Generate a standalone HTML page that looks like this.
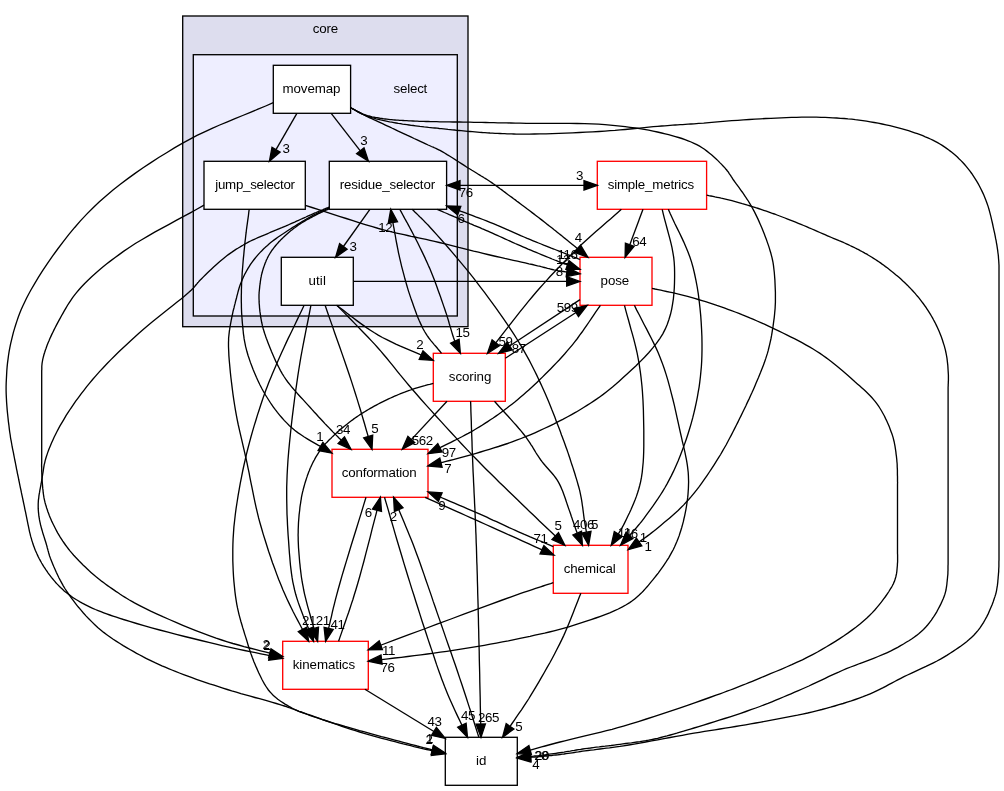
<!DOCTYPE html>
<html><head><meta charset="utf-8"><title>core/select</title>
<style>html,body{margin:0;padding:0;background:#fff}body{width:1004px;height:791px;overflow:hidden;font-family:"Liberation Sans",sans-serif}svg{display:block;will-change:transform}</style>
</head><body>
<svg width="1004" height="791" viewBox="0 0 1004 791">
<rect width="1004" height="791" fill="#fff"/>
<rect x="182.7" y="16" width="285.3" height="310.7" fill="#ddddee" stroke="#000" stroke-width="1.33"/>
<rect x="193.3" y="54.7" width="264" height="261.3" fill="#eeeeff" stroke="#000" stroke-width="1.33"/>
<g font-family="'Liberation Sans',sans-serif" font-size="13.33" fill="#000">
<text x="312.7" y="32.9" letter-spacing="-0.167">core</text>
<text x="393.6" y="92.9" letter-spacing="-0.22">select</text>
<rect x="273.3" y="65.3" width="77.3" height="48" fill="#fff" stroke="#000" stroke-width="1.33"/>
<text x="282.5" y="92.9" letter-spacing="-0.1">movemap</text>
<rect x="204" y="161.3" width="101.3" height="48" fill="#fff" stroke="#000" stroke-width="1.33"/>
<text x="215.2" y="188.9" letter-spacing="-0.258">jump_selector</text>
<rect x="329.3" y="161.3" width="117.3" height="48" fill="#fff" stroke="#000" stroke-width="1.33"/>
<text x="339.7" y="188.9" letter-spacing="-0.16">residue_selector</text>
<rect x="281.3" y="257.3" width="72" height="48" fill="#fff" stroke="#000" stroke-width="1.33"/>
<text x="308.5" y="284.9" letter-spacing="0.1">util</text>
<rect x="597.3" y="161.3" width="109.3" height="48" fill="#fff" stroke="#f00" stroke-width="1.33"/>
<text x="607.7" y="188.9" letter-spacing="-0.192">simple_metrics</text>
<rect x="580" y="257.3" width="72" height="48" fill="#fff" stroke="#f00" stroke-width="1.33"/>
<text x="600.6" y="284.9" letter-spacing="-0.1">pose</text>
<rect x="433.3" y="353.3" width="72" height="48" fill="#fff" stroke="#f00" stroke-width="1.33"/>
<text x="448.8" y="380.9" letter-spacing="-0.067">scoring</text>
<rect x="332" y="449.3" width="96" height="48" fill="#fff" stroke="#f00" stroke-width="1.33"/>
<text x="341.8" y="476.9" letter-spacing="-0.209">conformation</text>
<rect x="553.3" y="545.3" width="74.7" height="48" fill="#fff" stroke="#f00" stroke-width="1.33"/>
<text x="563.7" y="572.9" letter-spacing="-0.071">chemical</text>
<rect x="282.7" y="641.3" width="85.6" height="48" fill="#fff" stroke="#f00" stroke-width="1.33"/>
<text x="292.7" y="668.9" letter-spacing="-0.056">kinematics</text>
<rect x="445.3" y="737.3" width="72" height="48" fill="#fff" stroke="#000" stroke-width="1.33"/>
<text x="476" y="764.9" letter-spacing="0.1">id</text>
</g>
<g fill="none" stroke="#000" stroke-width="1.33">
<path d="M296.9,113.3 276,149.7"/>
<path d="M331.2,113.3 360.3,150.8"/>
<path d="M350.7,107.8 352,108.5 353.2,109.1 354.4,109.8 355.6,110.5 356.8,111.1 358,111.8 359.3,112.4 360.5,113.1 361.8,113.8 363.1,114.5 364.5,115.2 365.9,115.9 367.8,116.8 369.8,117.8 371.8,118.7 373.8,119.7 376,120.7 378.1,121.7 380.3,122.7 382.6,123.7 384.9,124.8 387.1,125.8 389.5,126.9 391.8,128 394.7,129.3 397.7,130.8 400.9,132.3 404.2,133.8 407.5,135.4 410.8,136.9 414.1,138.5 417.2,139.9 420.3,141.4 423.1,142.7 425.7,143.9 428.1,145 429.3,145.5 430.4,146 431.4,146.5 432.4,146.9 433.3,147.2 434.1,147.6 435,148 435.9,148.4 436.8,148.8 437.8,149.3 438.8,149.8 440,150.4 442.2,151.6 444.6,153 447.1,154.6 449.9,156.2 452.7,158 455.6,159.9 458.5,161.7 461.4,163.6 464.2,165.4 466.9,167.2 469.5,168.8 471.9,170.3 473.6,171.3 475.2,172.3 476.8,173.3 478.3,174.2 479.8,175.1 481.2,176 482.7,176.8 484.1,177.7 485.6,178.6 487,179.5 488.5,180.5 490,181.5 491.7,182.6 493.3,183.8 495,185 496.7,186.2 498.4,187.4 500.1,188.7 501.8,189.9 503.5,191.2 505.1,192.4 506.8,193.7 508.5,195 510.2,196.2 511.9,197.4 513.6,198.7 515.3,199.9 516.9,201.2 518.6,202.4 520.3,203.7 522,205 523.7,206.2 525.4,207.5 527,208.8 528.7,210 530.4,211.3 532.1,212.6 533.8,213.9 535.5,215.2 537.2,216.5 538.9,217.8 540.6,219.1 542.3,220.4 544,221.7 545.6,223 547.3,224.4 549,225.7 550.7,227 552.4,228.3 554.1,229.7 555.8,231 557.5,232.4 559.2,233.8 560.9,235.1 562.6,236.5 564.3,237.9 566,239.2 567.6,240.6 569.3,241.9 570.9,243.2 572.4,244.4 573.8,245.6 575.3,246.8 576.7,248 577.7,248.8"/>
<path d="M350.7,107.8 352,108.4 353.2,109.1 354.4,109.7 355.7,110.4 356.9,111 358.1,111.7 359.4,112.3 360.6,112.9 361.9,113.5 363.2,114.1 364.5,114.6 365.9,115.1 367.4,115.6 369,116 370.5,116.4 372.1,116.8 373.8,117.1 375.4,117.5 377,117.7 378.7,118 380.4,118.3 382,118.5 383.7,118.8 385.3,119 386.9,119.2 388.5,119.4 390.1,119.6 391.7,119.7 393.3,119.9 394.9,120 396.5,120.1 398.1,120.2 399.7,120.3 401.4,120.4 403.1,120.5 404.8,120.6 406.8,120.7 408.8,120.8 410.9,120.9 413,121 415.1,121.1 417.2,121.2 419.3,121.3 421.5,121.3 423.8,121.4 426,121.5 428.3,121.5 430.7,121.6 433.7,121.7 436.7,121.7 439.8,121.8 443,121.8 446.3,121.9 449.5,121.9 452.9,122 456.2,122 459.7,122 463.1,122.1 466.5,122.1 470,122.2 473.9,122.3 477.8,122.3 481.8,122.4 485.7,122.5 489.7,122.6 493.8,122.7 497.9,122.8 502.1,122.8 506.4,122.9 510.8,123 515.4,123.1 520,123.2 526.4,123.3 533.1,123.3 540.1,123.3 547.3,123.3 554.7,123.3 562.2,123.3 569.7,123.4 577.1,123.5 584.5,123.7 591.6,123.9 598.5,124.2 605,124.7 610.2,125.1 615.3,125.6 620.3,126.1 625.2,126.7 630.1,127.3 634.9,127.9 639.6,128.6 644.2,129.4 648.7,130.2 653.1,131.1 657.4,132 661.7,133 665.2,133.9 668.6,134.7 672,135.6 675.4,136.6 678.6,137.5 681.9,138.5 685,139.6 688.1,140.8 691.1,142 694,143.3 696.8,144.7 699.6,146.2 702.1,147.7 704.5,149.3 706.9,151.1 709.2,152.9 711.5,154.8 713.7,156.7 715.9,158.7 717.9,160.6 719.8,162.6 721.6,164.4 723.3,166.2 724.9,167.9 725.8,169 726.7,170 727.4,171 728.2,171.9 728.8,172.8 729.4,173.8 730,174.7 730.7,175.7 731.3,176.7 732,177.7 732.7,178.8 733.5,180 734.8,181.8 736.1,183.7 737.6,185.7 739.1,187.7 740.6,189.8 742.2,192 743.7,194.2 745.3,196.5 746.8,198.8 748.3,201 749.7,203.3 751,205.5 752.2,207.7 753.4,209.9 754.6,212.1 755.7,214.4 756.8,216.6 757.9,218.9 758.9,221.1 759.9,223.4 760.9,225.7 761.9,228 762.8,230.3 763.7,232.6 764.6,234.8 765.4,237.1 766.3,239.3 767.1,241.6 767.9,243.9 768.7,246.1 769.4,248.4 770.1,250.7 770.8,253 771.4,255.3 772,257.6 772.5,260 773,262.4 773.4,264.9 773.7,267.4 774,270 774.3,272.5 774.5,275 774.7,277.6 774.9,280.1 775,282.6 775.1,285.1 775.2,287.6 775.3,290 775.4,292.1 775.4,294.2 775.4,296.3 775.4,298.3 775.4,300.4 775.4,302.4 775.3,304.4 775.2,306.4 775.1,308.5 774.9,310.6 774.7,312.8 774.5,315 774.2,317.8 773.8,320.7 773.4,323.6 773,326.7 772.5,329.7 772,332.8 771.5,335.9 770.9,339 770.2,342.1 769.5,345.1 768.8,348 768.1,350.9 767.4,353.4 766.6,355.9 765.8,358.4 765,360.7 764.2,363.1 763.3,365.5 762.4,367.8 761.4,370.2 760.5,372.6 759.5,375 758.5,377.5 757.4,380 756.1,383.1 754.8,386.2 753.4,389.4 752,392.6 750.5,395.8 749,399.1 747.4,402.4 745.9,405.7 744.3,409 742.7,412.3 741.1,415.6 739.5,418.8 737.9,422.1 736.3,425.3 734.6,428.6 733,431.8 731.3,435.1 729.6,438.3 727.9,441.5 726.2,444.8 724.3,448 722.5,451.2 720.6,454.5 718.6,457.7 716.4,461.2 714.1,464.8 711.8,468.4 709.4,472 707,475.6 704.5,479.2 701.9,482.8 699.4,486.3 696.7,489.8 694.1,493.1 691.4,496.4 688.7,499.5 686.1,502.3 683.5,505.1 680.8,507.8 678.1,510.4 675.3,512.9 672.5,515.4 669.7,517.9 666.9,520.3 664.1,522.6 661.3,524.9 658.6,527.2 655.9,529.4 653.6,531.3 651.2,533.1 648.9,534.9 646.6,536.6 644.3,538.3 642,539.9 639.7,541.5 639.1,542"/>
<path d="M350.7,107.8 352,108.5 353.2,109.1 354.4,109.8 355.6,110.5 356.8,111.2 358,111.9 359.2,112.6 360.5,113.2 361.8,113.9 363.1,114.5 364.5,115.1 365.9,115.7 367.8,116.4 369.8,117 371.8,117.6 374,118.2 376.1,118.8 378.4,119.3 380.6,119.9 382.9,120.4 385.1,120.8 387.4,121.3 389.6,121.8 391.8,122.2 393.9,122.6 396.1,123 398.3,123.4 400.4,123.7 402.6,124.1 404.7,124.4 406.9,124.7 409.1,125 411.2,125.3 413.4,125.5 415.5,125.8 417.7,126.1 419.9,126.4 422,126.6 424.2,126.9 426.3,127.1 428.5,127.4 430.6,127.6 432.8,127.8 434.9,128 437.1,128.2 439.3,128.5 441.4,128.7 443.6,128.9 445.8,129.1 448,129.4 450.1,129.6 452.3,129.8 454.5,130 456.7,130.3 458.9,130.5 461.1,130.7 463.3,130.9 465.5,131.1 467.7,131.3 470,131.5 472.4,131.7 474.9,131.9 477.4,132.1 479.9,132.3 482.4,132.5 484.9,132.6 487.4,132.8 490,133 492.5,133.1 495,133.3 497.5,133.4 500,133.5 502.4,133.6 504.7,133.7 507,133.8 509.3,133.9 511.5,133.9 513.8,134 516.1,134.1 518.5,134.1 521,134.1 523.6,134.1 526.4,134.1 529.3,134.1 534.4,134 540,133.9 546,133.8 552.3,133.6 558.9,133.4 565.6,133.1 572.5,132.8 579.3,132.5 586,132.2 592.6,131.8 599,131.5 605,131.1 610.1,130.7 615.1,130.4 620.1,129.9 625.1,129.5 630,129 634.9,128.5 639.6,128.1 644.3,127.6 648.8,127.2 653.3,126.7 657.6,126.3 661.7,126 664.7,125.8 667.5,125.6 670.1,125.4 672.7,125.2 675.2,125 677.7,124.9 680.2,124.7 682.7,124.6 685.3,124.4 688.1,124.2 690.9,124 694,123.8 698.7,123.4 703.7,123.1 709,122.6 714.5,122.2 720.2,121.7 726,121.2 731.8,120.7 737.7,120.3 743.5,119.9 749.3,119.5 755,119.1 760.5,118.8 765.7,118.5 770.9,118.3 776,118.1 781.2,117.8 786.4,117.6 791.5,117.4 796.6,117.3 801.7,117.2 806.6,117.1 811.5,117.1 816.4,117.2 821.1,117.3 825.1,117.4 829.1,117.6 832.9,117.8 836.7,118 840.5,118.3 844.2,118.5 848,118.9 851.7,119.2 855.3,119.7 859,120.1 862.8,120.6 866.5,121.2 870.3,121.8 874.2,122.5 878.1,123.2 882.1,124 886,124.8 889.9,125.7 893.7,126.6 897.5,127.6 901.3,128.6 904.9,129.6 908.5,130.7 911.9,131.8 914.7,132.8 917.4,133.7 920.1,134.7 922.8,135.7 925.3,136.8 927.9,137.8 930.4,139 932.8,140.1 935.2,141.3 937.6,142.6 939.9,144 942.2,145.4 944.4,146.9 946.6,148.4 948.8,150 950.9,151.6 953,153.3 955.1,155 957.1,156.8 959,158.7 961,160.6 962.8,162.5 964.6,164.5 966.4,166.6 968.2,168.8 970,171.1 971.7,173.5 973.3,175.9 974.9,178.3 976.5,180.9 978,183.4 979.4,186 980.8,188.7 982.1,191.4 983.4,194.1 984.6,196.9 985.8,200 987,203.2 988.1,206.4 989.1,209.8 990,213.2 990.9,216.7 991.7,220.1 992.5,223.5 993.2,226.9 993.9,230.1 994.6,233.2 995.2,236.2 995.6,238.4 996.1,240.5 996.4,242.6 996.8,244.7 997.1,246.7 997.4,248.7 997.7,250.6 997.9,252.5 998.2,254.5 998.4,256.4 998.5,258.3 998.7,260.2 998.8,261.9 998.9,263.7 999,265.4 999,267.1 999,268.8 999,270.5 999,272.2 999,273.8 999,275.5 999,277.2 999,278.8 999,280.5 999,282.1 999,283.7 999,285.3 999,286.9 999,288.4 999,290 999,291.6 999,293.2 999,294.8 999,296.5 999,298.2 999,300 999,302.2 999,304.4 999,306.6 999,308.9 999,311.2 999,313.5 999,315.9 999,318.5 999,321.1 999,323.9 999,326.9 999,330 999,336.3 999,343.3 999,350.8 999,358.9 999,367.4 999,376.2 999,385.2 999,394.3 999,403.5 999,412.5 999,421.4 999,430 999,438.9 999,448.3 999,458 999,467.9 999,477.7 999,487.5 999,497 999,506 999,514.5 999,522.2 999,529.1 999,535 999,537.2 999,539.2 999,541.1 999,542.8 999,544.4 999,546 999,547.5 999,548.9 999,550.4 999,551.8 999,553.4 999,555 999,556.7 999,558.3 999,560 998.9,561.6 998.9,563.3 998.9,565 998.9,566.6 998.8,568.3 998.7,570 998.7,571.6 998.5,573.3 998.4,575 998.2,576.8 998.1,578.5 997.9,580.2 997.8,582 997.6,583.7 997.4,585.4 997.1,587.2 996.8,589 996.5,590.8 996.1,592.6 995.6,594.5 995,596.4 994.1,599 993.2,601.8 992.1,604.7 990.9,607.6 989.6,610.6 988.3,613.6 986.8,616.6 985.2,619.5 983.6,622.4 981.8,625.2 980,627.9 978.1,630.4 976,632.8 973.8,635.2 971.5,637.4 969.1,639.6 966.6,641.7 964,643.7 961.3,645.7 958.6,647.6 955.8,649.5 953,651.4 950.1,653.2 947.2,655.1 943.9,657.1 940.5,659.1 937,661 933.4,662.8 929.7,664.6 926,666.4 922.2,668.1 918.5,669.8 914.8,671.6 911.1,673.3 907.5,675 904,676.7 900.8,678.3 897.7,679.9 894.7,681.5 891.7,683.1 888.7,684.7 885.7,686.3 882.7,687.9 879.7,689.4 876.6,690.9 873.4,692.4 870.2,693.8 866.9,695.2 863.1,696.7 859.2,698.1 855.3,699.5 851.3,700.9 847.2,702.2 843.1,703.5 838.9,704.7 834.7,706 830.5,707.2 826.2,708.3 821.9,709.5 817.5,710.6 812.6,711.8 807.7,713 802.6,714.1 797.5,715.2 792.3,716.2 787.1,717.2 781.9,718.2 776.7,719.2 771.4,720.2 766.2,721.1 761,722.1 755.8,723 750.7,723.9 745.6,724.8 740.5,725.7 735.4,726.5 730.3,727.3 725.2,728.1 720,729 714.9,729.8 709.7,730.6 704.5,731.4 699.3,732.3 694,733.2 688.2,734.2 682.3,735.3 676.2,736.4 670.1,737.5 663.9,738.7 657.7,739.8 651.6,740.9 645.6,742 639.8,743.1 634.1,744.1 628.7,745 623.5,745.8 619.9,746.4 616.3,746.9 612.9,747.3 609.5,747.8 606.2,748.2 603,748.6 599.9,749 596.8,749.4 593.8,749.8 590.8,750.1 587.9,750.5 585,750.9 582.7,751.2 580.5,751.5 578.4,751.9 576.3,752.2 574.2,752.5 572.2,752.8 570.1,753.1 568.1,753.4 566.1,753.7 564.1,754 562.1,754.2 560,754.5 557.9,754.8 555.8,755 553.7,755.2 551.5,755.5 549.4,755.7 547.2,755.9 545.1,756.1 543,756.3 541,756.5 538.9,756.7 536.9,756.8 535,757 533.4,757.1 531.9,757.2 530.6,757.3"/>
<path d="M273.3,102.7 265.7,106 258,109.2 250.4,112.4 242.7,115.5 235,118.6 227.4,121.8 219.7,125 212.1,128.3 204.6,131.8 197,135.4 189.6,139.3 182.2,143.4 174.4,147.9 166.6,152.7 158.7,157.5 150.9,162.6 143.1,167.8 135.4,173.1 127.8,178.6 120.3,184.2 113,190 106,195.9 99.1,202 92.6,208.2 86.5,214.4 80.4,220.9 74.5,227.7 68.7,234.7 63.1,241.9 57.7,249 52.5,256.2 47.5,263.4 42.8,270.4 38.5,277.2 34.5,283.8 30.9,290 28.6,294.2 26.5,298.2 24.6,302.2 22.8,306 21.1,309.8 19.6,313.6 18.2,317.3 16.9,321.1 15.7,324.8 14.5,328.6 13.4,332.4 12.4,336.3 11.5,340.1 10.6,343.9 9.8,347.8 9.1,351.6 8.5,355.5 8,359.3 7.5,363.2 7.1,367.1 6.8,371 6.6,374.9 6.4,378.7 6.2,382.6 6.1,386.5 6.1,390.4 6.2,394.3 6.4,398.3 6.6,402.3 6.9,406.2 7.2,410.1 7.6,414 8,417.8 8.4,421.6 8.9,425.3 9.3,428.9 9.7,432 10.2,435 10.6,438.1 11.2,441.1 11.7,444 12.2,447 12.8,449.8 13.4,452.6 13.9,455.3 14.4,458 14.9,460.5 15.4,462.9 15.7,464.5 16,466 16.3,467.5 16.5,468.8 16.8,470.2 17.1,471.5 17.3,472.8 17.6,474.1 17.9,475.5 18.2,476.9 18.5,478.4 18.8,480 19.3,482.3 19.8,484.8 20.3,487.3 20.9,490 21.4,492.7 22,495.4 22.6,498.2 23.2,501 23.8,503.8 24.4,506.6 24.9,509.3 25.5,511.9 26,514.4 26.5,516.8 27,519.3 27.5,521.8 28,524.3 28.5,526.7 29,529.2 29.5,531.6 30.1,533.9 30.6,536.2 31.3,538.4 31.9,540.6 32.5,542.4 33,544.1 33.6,545.7 34.2,547.3 34.8,548.9 35.4,550.5 36.1,552 36.8,553.6 37.5,555.1 38.2,556.6 39,558.2 39.8,559.7 40.7,561.3 41.6,563 42.6,564.6 43.6,566.3 44.7,567.9 45.8,569.6 46.9,571.2 48,572.8 49.1,574.3 50.3,575.9 51.4,577.4 52.6,578.8 53.7,580.1 54.8,581.4 55.9,582.7 57,583.9 58.2,585.1 59.3,586.3 60.5,587.5 61.7,588.6 63,589.8 64.2,590.9 65.5,592 66.9,593.1 68.4,594.3 70,595.4 71.5,596.6 73.2,597.7 74.8,598.7 76.5,599.8 78.2,600.8 80,601.9 81.8,602.9 83.7,603.9 85.6,604.9 87.6,605.9 90.1,607.1 92.7,608.3 95.4,609.5 98.1,610.6 100.9,611.7 103.8,612.8 106.7,613.9 109.8,615 113,616.1 116.4,617.2 119.9,618.3 123.5,619.5 129.7,621.4 136.6,623.5 143.9,625.6 151.7,627.8 159.7,630 168,632.1 176.3,634.3 184.7,636.5 193,638.5 201,640.5 208.8,642.4 216.1,644.2 222,645.6 227.8,646.9 233.5,648.2 239.1,649.4 244.6,650.5 250.1,651.6 255.5,652.7 260.9,653.8 266.3,654.9 269.6,655.6"/>
<path d="M305.3,205.4 312,207.5 318.7,209.7 325.6,211.9 332.4,214.1 339.3,216.3 346.2,218.5 352.9,220.7 359.6,222.8 366.1,224.8 372.4,226.7 378.5,228.5 384.4,230.1 388.6,231.2 392.6,232.2 396.5,233.1 400.3,233.9 404,234.7 407.6,235.5 411.2,236.3 414.8,237 418.5,237.8 422.2,238.6 426.1,239.4 430,240.3 434.6,241.4 439.3,242.5 444.1,243.7 449,244.9 453.9,246.1 458.8,247.4 463.8,248.6 468.7,249.8 473.6,251.1 478.4,252.2 483.1,253.4 487.8,254.5 492,255.5 496.3,256.5 500.5,257.4 504.8,258.4 509.1,259.3 513.3,260.3 517.4,261.2 521.4,262.1 525.2,262.9 528.9,263.8 532.4,264.5 535.6,265.3 537.6,265.8 539.4,266.2 541.2,266.7 542.8,267.1 544.4,267.5 546,267.9 547.5,268.4 549.1,268.7 550.6,269.1 552.2,269.5 553.9,269.9 555.6,270.2 557.5,270.6 559.5,270.9 561.5,271.2 563.5,271.5 565.6,271.8 566.8,272"/>
<path d="M204,205.1 197.2,209 190.3,212.8 183.2,216.6 176.2,220.4 169.1,224.3 162.1,228.1 155.1,231.9 148.3,235.8 141.7,239.7 135.3,243.5 129.3,247.5 123.5,251.4 119.1,254.6 114.8,257.7 110.6,260.9 106.5,264.1 102.5,267.3 98.7,270.6 95,273.8 91.4,277 88,280.3 84.7,283.5 81.6,286.8 78.7,290 76.5,292.6 74.5,295.1 72.6,297.7 70.8,300.3 69.1,302.9 67.4,305.5 65.9,308.1 64.4,310.7 62.9,313.3 61.5,315.8 60.1,318.4 58.7,320.9 57.5,323.1 56.3,325.4 55.1,327.7 54,329.9 52.9,332.2 51.8,334.4 50.8,336.6 49.8,338.8 48.9,341 48,343 47.2,345.1 46.5,347 46,348.4 45.5,349.7 45.1,351 44.7,352.3 44.3,353.5 43.9,354.8 43.6,356 43.3,357.2 43,358.4 42.7,359.6 42.5,360.8 42.3,362 42.1,363.1 42,364.2 41.9,365.3 41.8,366.3 41.8,367.4 41.8,368.5 41.8,369.6 41.7,370.6 41.7,371.7 41.7,372.8 41.7,373.9 41.7,375 41.7,376.2 41.7,377.4 41.7,378.6 41.7,379.7 41.7,380.9 41.7,382.1 41.7,383.3 41.7,384.6 41.7,385.9 41.7,387.2 41.7,388.6 41.7,390 41.7,392.1 41.7,394.4 41.7,396.7 41.7,399.2 41.7,401.7 41.7,404.2 41.7,406.8 41.7,409.4 41.7,412.1 41.7,414.7 41.7,417.4 41.7,420 41.7,422.9 41.7,425.8 41.7,428.9 41.7,432 41.7,435.1 41.7,438.2 41.7,441.3 41.7,444.3 41.7,447.2 41.7,450 41.7,452.6 41.7,455 41.7,456.5 41.7,457.9 41.7,459.2 41.7,460.5 41.7,461.7 41.7,462.9 41.6,464.1 41.6,465.2 41.6,466.4 41.7,467.6 41.7,468.8 41.7,470 41.7,471.2 41.8,472.5 41.8,473.7 41.9,475 41.9,476.2 42,477.5 42,478.7 42.1,480 42.2,481.2 42.3,482.5 42.4,483.7 42.5,485 42.6,486.3 42.7,487.6 42.8,488.9 43,490.1 43.1,491.4 43.2,492.7 43.4,494 43.6,495.3 43.8,496.6 44,497.9 44.3,499.3 44.6,500.7 45,502.4 45.5,504.2 46.1,506 46.6,507.9 47.3,509.8 47.9,511.7 48.6,513.6 49.3,515.5 50.1,517.4 50.9,519.3 51.7,521.1 52.6,523 53.6,525 54.6,527 55.6,529 56.7,531.1 57.8,533.1 59,535.1 60.2,537.1 61.5,539.1 62.8,541.1 64.1,543 65.5,545 66.9,546.9 68.5,549 70.2,551.1 71.9,553.1 73.7,555.2 75.6,557.3 77.5,559.3 79.4,561.3 81.4,563.3 83.3,565.2 85.3,567.1 87.3,569 89.2,570.8 91,572.4 92.8,574 94.6,575.6 96.4,577.1 98.2,578.5 100.1,580 101.9,581.4 103.8,582.8 105.7,584.2 107.6,585.6 109.6,587 111.6,588.4 113.8,589.9 115.9,591.4 118.1,592.8 120.2,594.3 122.4,595.7 124.7,597.1 127,598.5 129.4,600 131.9,601.4 134.5,602.9 137.3,604.4 140.2,605.9 145.2,608.4 150.7,611.1 156.6,613.8 162.8,616.7 169.3,619.5 176,622.4 182.8,625.3 189.6,628.1 196.5,630.8 203.2,633.4 209.8,635.8 216.1,638.1 221.7,640 227.4,641.8 232.9,643.5 238.5,645 244,646.6 249.6,648 255.1,649.4 260.6,650.8 266.1,652.2 269.8,653.2"/>
<path d="M249.2,209.3 248.8,212.2 248.5,215 248.1,217.9 247.7,220.7 247.3,223.6 246.9,226.4 246.5,229.3 246.2,232.2 245.8,235.1 245.5,238 245.1,241 244.8,244 244.5,247.4 244.1,250.9 243.8,254.5 243.4,258.1 243.1,261.8 242.8,265.5 242.5,269.1 242.2,272.8 242,276.4 241.8,280 241.6,283.5 241.5,286.9 241.4,289.9 241.4,292.8 241.3,295.7 241.3,298.6 241.3,301.4 241.4,304.3 241.4,307.1 241.5,309.8 241.6,312.6 241.8,315.4 242,318.1 242.2,320.9 242.4,323.5 242.7,326.1 242.9,328.7 243.2,331.2 243.4,333.7 243.8,336.2 244.1,338.7 244.6,341.3 245.1,343.8 245.6,346.4 246.3,349.1 247,351.8 248,355.2 249.2,358.8 250.4,362.4 251.8,366.1 253.2,369.8 254.8,373.6 256.4,377.3 258.1,381 259.9,384.7 261.7,388.2 263.6,391.7 265.5,395 267.4,398 269.3,401 271.2,404 273.2,406.8 275.3,409.7 277.4,412.4 279.6,415.1 281.9,417.8 284.2,420.4 286.7,422.9 289.2,425.4 291.8,427.8 294.7,430.3 297.8,432.6 301,434.8 304.3,437 307.7,439.1 311.1,441.1 314.6,443.1 318.1,445.1 320.5,446.4"/>
<path d="M369.9,209.3 343.4,246.5"/>
<path d="M460,185.3 584,185.3"/>
<path d="M437.2,209.3 439.6,210.3 442,211.4 444.4,212.5 446.9,213.5 449.3,214.6 451.7,215.6 454.1,216.7 456.5,217.7 458.9,218.8 461.3,219.8 463.6,220.8 465.9,221.8 468,222.7 470,223.6 472,224.4 474,225.3 476,226.1 477.9,226.9 479.9,227.7 481.8,228.6 483.8,229.4 485.9,230.3 487.9,231.2 490,232.1 492.4,233.2 494.9,234.3 497.3,235.4 499.8,236.5 502.4,237.7 504.9,238.8 507.5,240 510.1,241.2 512.6,242.3 515.2,243.5 517.8,244.6 520.3,245.7 522.9,246.8 525.5,247.9 528.1,249.1 530.8,250.2 533.5,251.3 536.2,252.4 538.8,253.5 541.4,254.6 543.9,255.6 546.3,256.6 548.6,257.5 550.7,258.4 552.1,259 553.4,259.5 554.6,260 555.8,260.5 557,260.9 558.2,261.4 559.3,261.8 560.4,262.3 561.5,262.7 562.7,263.1 563.8,263.6 565,264 566.2,264.5 567.4,264.9"/>
<path d="M580,259.5 578.4,258.9 576.9,258.2 575.3,257.6 573.8,257 572.2,256.4 570.7,255.8 569.1,255.1 567.5,254.5 565.9,253.8 564.3,253.2 562.6,252.5 560.8,251.8 558.5,250.9 556.2,250 553.8,249 551.3,248.1 548.8,247.1 546.3,246.1 543.7,245.1 541.1,244 538.5,243 535.8,241.9 533.1,240.8 530.4,239.7 527.2,238.4 524,237 520.7,235.6 517.4,234.1 514,232.6 510.7,231.1 507.2,229.6 503.8,228.1 500.4,226.6 496.9,225.2 493.4,223.7 490,222.3 486.5,220.9 482.9,219.5 479.3,218.1 475.7,216.8 472.1,215.4 468.5,214.1 464.8,212.7 461.2,211.4 459.2,210.6"/>
<path d="M399.8,209.3 401.2,211.9 402.6,214.5 404,217.1 405.4,219.7 406.9,222.3 408.3,224.9 409.7,227.5 411.1,230.1 412.5,232.7 413.8,235.3 415.2,237.9 416.5,240.5 417.8,243 419,245.5 420.2,248 421.4,250.4 422.6,252.9 423.8,255.4 425,257.9 426.1,260.4 427.3,262.9 428.4,265.5 429.6,268.1 430.7,270.8 431.9,273.8 433.2,276.9 434.4,280.1 435.6,283.3 436.8,286.6 438,289.9 439.2,293.2 440.4,296.4 441.5,299.7 442.6,302.9 443.7,306.1 444.8,309.2 445.7,312 446.7,314.9 447.6,317.9 448.5,320.8 449.3,323.7 450.2,326.6 451,329.4 451.8,332.1 452.6,334.7 453.4,337.2 454.2,339.5 454.8,341.2"/>
<path d="M441.5,353.3 440.1,351.5 438.6,349.8 437.2,348 435.7,346.3 434.2,344.6 432.8,342.9 431.3,341.1 429.9,339.3 428.5,337.5 427.2,335.6 425.9,333.6 424.6,331.5 423.2,329 421.9,326.4 420.6,323.6 419.3,320.8 418.1,317.9 416.9,315 415.8,312 414.7,309.1 413.6,306 412.6,303 411.5,300.1 410.5,297.1 409.5,294.1 408.5,291.1 407.6,288.1 406.7,285 405.8,281.9 404.9,278.8 404.1,275.7 403.3,272.7 402.5,269.6 401.7,266.6 401,263.6 400.3,260.7 399.7,258.1 399.1,255.4 398.5,252.8 398,250.2 397.5,247.6 397,245 396.5,242.5 396,239.9 395.6,237.5 395.2,235 394.7,232.6 394.3,230.3 394,228.4 393.6,226.6 393.3,224.8 393,223 392.9,222.5"/>
<path d="M329.3,208.6 327.9,209.3 326.6,209.9 325.2,210.5 323.9,211.2 322.5,211.8 321.1,212.4 319.8,213.1 318.4,213.7 317.1,214.4 315.7,215.1 314.3,215.8 313,216.5 311.6,217.3 310.2,218 308.8,218.8 307.4,219.5 306.1,220.3 304.7,221.1 303.3,221.9 301.9,222.8 300.5,223.6 299.2,224.5 297.8,225.4 296.5,226.4 295.1,227.5 293.6,228.5 292.2,229.7 290.7,230.8 289.3,232 287.9,233.2 286.5,234.4 285.1,235.7 283.8,236.9 282.5,238.2 281.2,239.4 280,240.7 278.9,241.8 277.9,243 276.9,244.1 275.9,245.3 274.9,246.5 274,247.6 273.1,248.8 272.2,250 271.4,251.2 270.5,252.5 269.8,253.7 269,255 268.3,256.3 267.6,257.6 267,259 266.3,260.3 265.8,261.7 265.2,263.1 264.7,264.5 264.2,265.9 263.7,267.3 263.2,268.7 262.8,270.1 262.4,271.5 262.1,272.8 261.7,274.1 261.4,275.4 261.2,276.7 260.9,278 260.7,279.3 260.5,280.6 260.3,281.9 260.2,283.2 260,284.5 259.8,285.7 259.7,286.9 259.6,287.9 259.5,288.9 259.4,289.8 259.3,290.8 259.2,291.7 259.1,292.6 259.1,293.5 259,294.5 259,295.4 259,296.5 259,297.5 259,298.6 259.1,300.2 259.1,301.9 259.2,303.7 259.4,305.6 259.5,307.5 259.7,309.4 259.9,311.4 260.2,313.4 260.5,315.3 260.7,317.2 261.1,319.1 261.4,320.9 261.7,322.5 262.1,324.1 262.4,325.7 262.8,327.2 263.2,328.7 263.7,330.2 264.1,331.8 264.6,333.3 265.2,334.9 265.7,336.5 266.3,338.2 267,340 268,342.7 269.1,345.5 270.3,348.5 271.5,351.6 272.9,354.7 274.3,357.9 275.7,361.1 277.3,364.4 278.9,367.5 280.5,370.6 282.2,373.6 284,376.5 285.9,379.3 287.8,382 289.9,384.7 292,387.3 294.2,389.9 296.4,392.4 298.7,395 301,397.5 303.3,399.9 305.5,402.4 307.8,404.9 310,407.3 312.1,409.6 314.2,412 316.4,414.3 318.5,416.7 320.7,419 322.8,421.3 324.9,423.6 327,425.8 329.1,427.9 331.1,430 333.1,432.1 335,434 336.4,435.4 337.8,436.8 339.2,438.2 340.6,439.5 341.3,440.2"/>
<path d="M329.3,207.8 327.9,208.4 326.6,209 325.3,209.6 323.9,210.2 322.6,210.8 321.3,211.4 319.9,212 318.6,212.6 317.2,213.3 315.8,214 314.4,214.7 313,215.4 311.3,216.3 309.5,217.3 307.7,218.3 305.9,219.4 304,220.5 302.1,221.6 300.3,222.7 298.4,223.9 296.5,225.1 294.7,226.2 292.8,227.4 291,228.6 289.1,229.8 287.2,231 285.4,232.2 283.5,233.5 281.6,234.7 279.7,236 277.8,237.3 276,238.6 274.2,239.9 272.4,241.2 270.7,242.6 269,244 267.5,245.4 265.9,246.7 264.5,248.1 263,249.5 261.6,251 260.2,252.4 258.8,253.9 257.5,255.4 256.2,256.9 254.9,258.5 253.7,260 252.5,261.6 251.4,263.1 250.3,264.7 249.3,266.3 248.3,267.9 247.3,269.6 246.4,271.2 245.5,272.9 244.6,274.5 243.8,276.2 243,277.9 242.2,279.7 241.5,281.4 240.8,283.2 240.1,285 239.5,286.8 238.9,288.7 238.4,290.5 237.9,292.4 237.4,294.3 236.9,296.2 236.5,298 236,299.8 235.5,301.6 235.1,303.4 234.7,304.9 234.3,306.4 234,307.9 233.6,309.3 233.2,310.7 232.9,312.1 232.6,313.6 232.3,315 232,316.4 231.7,317.9 231.4,319.4 231.1,320.9 230.8,322.6 230.5,324.2 230.2,325.9 229.9,327.5 229.7,329.2 229.4,330.8 229.2,332.6 229,334.4 228.8,336.3 228.6,338.2 228.6,340.3 228.5,342.5 228.5,346.6 228.7,351.1 228.9,355.9 229.3,361 229.8,366.4 230.3,371.9 230.9,377.5 231.6,383.2 232.3,388.8 233,394.4 233.8,399.8 234.6,405 235.4,409.9 236.3,414.8 237.2,419.6 238.2,424.5 239.3,429.3 240.4,434.1 241.5,438.8 242.6,443.6 243.7,448.4 244.8,453.2 245.9,458 247,462.9 248,467.9 249.1,472.8 250,477.8 251,482.8 252,487.7 253,492.7 254,497.7 255.1,502.8 256.2,507.8 257.4,512.8 258.6,517.9 260,523 261.6,528.5 263.2,534.1 265,539.8 266.8,545.5 268.6,551.3 270.6,557 272.5,562.7 274.6,568.3 276.6,573.9 278.7,579.4 280.9,584.8 283,590 285,594.6 287,599 289.1,603.4 291.2,607.7 293.3,612 295.5,616.2 297.7,620.4 299.9,624.5 302.1,628.7 302.5,629.4"/>
<path d="M329.3,207 327.9,207.6 326.6,208.1 325.3,208.7 324,209.2 322.6,209.8 321.3,210.3 320,210.9 318.6,211.4 317.2,212 315.9,212.6 314.4,213.2 313,213.8 311.3,214.6 309.5,215.3 307.7,216.1 305.9,217 304.1,217.8 302.2,218.7 300.3,219.5 298.5,220.4 296.6,221.2 294.7,222.1 292.8,222.9 291,223.7 289.2,224.5 287.3,225.3 285.5,226.1 283.7,226.8 281.8,227.6 280,228.3 278.2,229.1 276.3,229.9 274.5,230.6 272.7,231.4 270.8,232.2 269,233 267.2,233.8 265.3,234.6 263.5,235.3 261.6,236.1 259.8,236.9 257.9,237.7 256.1,238.5 254.3,239.3 252.4,240.1 250.6,241 248.8,241.9 247,242.9 245.1,243.9 243.3,245 241.4,246.1 239.6,247.2 237.8,248.3 235.9,249.4 234.1,250.6 232.3,251.9 230.5,253.1 228.7,254.4 226.8,255.8 225,257.2 222.9,258.9 220.7,260.7 218.4,262.7 216.2,264.7 213.9,266.8 211.6,268.9 209.4,271 207.3,273 205.3,275 203.4,276.9 201.6,278.7 200,280.3 199.1,281.2 198.4,282.1 197.7,282.8 197.1,283.6 196.5,284.3 195.9,285 195.3,285.7 194.7,286.5 194,287.3 193.3,288.1 192.4,289 191.4,290 188.6,292.6 185.2,295.5 181.4,298.7 177.1,302.1 172.5,305.7 167.7,309.5 162.7,313.4 157.7,317.4 152.7,321.4 147.9,325.4 143.2,329.4 138.9,333.2 134.8,336.9 130.7,340.7 126.7,344.5 122.6,348.3 118.6,352.1 114.6,356 110.7,359.9 106.9,363.8 103.2,367.7 99.5,371.6 96,375.6 92.6,379.5 89.6,383.1 86.7,386.7 83.9,390.3 81.1,393.9 78.4,397.6 75.7,401.2 73.2,404.9 70.7,408.5 68.3,412.2 66,415.7 63.9,419.3 61.8,422.8 60.1,425.7 58.5,428.6 57,431.5 55.5,434.5 54.1,437.3 52.8,440.2 51.5,443.1 50.3,445.9 49.2,448.6 48.1,451.4 47.2,454.1 46.3,456.7 45.7,458.8 45.1,460.8 44.7,462.8 44.2,464.7 43.9,466.6 43.6,468.5 43.3,470.4 43,472.3 42.7,474.2 42.4,476.1 42.1,478.1 41.8,480 41.4,482 41.1,484 40.7,486 40.3,488.1 39.9,490.1 39.6,492.2 39.2,494.2 38.9,496.2 38.7,498.2 38.4,500.1 38.3,502 38.2,503.9 38.2,505.4 38.2,506.9 38.2,508.4 38.3,509.9 38.4,511.3 38.5,512.7 38.7,514.1 38.8,515.5 39,517 39.3,518.4 39.5,519.9 39.8,521.4 40.2,523.2 40.6,525 41.1,526.9 41.6,528.8 42.2,530.7 42.7,532.6 43.3,534.5 43.9,536.4 44.5,538.3 45.1,540.2 45.7,542 46.2,543.7 46.6,545.1 47,546.5 47.3,547.9 47.7,549.2 48,550.4 48.4,551.7 48.7,553 49.1,554.3 49.5,555.7 50,557.1 50.5,558.5 51.1,560 52,562.3 53,564.7 54,567.1 55.2,569.7 56.3,572.3 57.6,575 58.9,577.7 60.3,580.4 61.8,583.1 63.3,585.8 64.9,588.5 66.6,591.1 68.7,594.2 70.9,597.3 73.2,600.4 75.6,603.6 78.1,606.8 80.8,609.9 83.4,613 86.2,616.1 89,619 91.9,621.9 94.8,624.7 97.7,627.4 100.7,629.9 103.7,632.4 106.8,634.7 110,637 113.2,639.3 116.5,641.4 119.9,643.5 123.2,645.6 126.6,647.6 129.9,649.5 133.3,651.4 136.6,653.3 139.8,655 142.9,656.7 146,658.3 149.2,659.9 152.3,661.4 155.5,662.9 158.7,664.3 161.9,665.8 165.2,667.2 168.5,668.6 171.9,670 175.4,671.4 179.4,673 183.6,674.6 187.8,676.2 192,677.7 196.4,679.3 200.8,680.8 205.2,682.3 209.6,683.8 214.1,685.2 218.5,686.7 222.9,688.1 227.3,689.5 231.7,690.9 236.3,692.2 240.9,693.6 245.6,694.9 250.3,696.2 254.9,697.5 259.5,698.7 264,699.9 268.3,701.1 272.4,702.3 276.3,703.5 280,704.6 282.3,705.3 284.4,706 286.4,706.7 288.2,707.3 290.1,708 291.8,708.6 293.6,709.2 295.4,709.9 297.3,710.6 299.2,711.3 301.3,712 303.6,712.8 307.2,714.1 311.1,715.4 315.1,716.9 319.4,718.4 323.7,720 328.2,721.5 332.8,723.1 337.3,724.7 341.9,726.3 346.5,727.8 351,729.3 355.4,730.7 359.7,732 364.1,733.3 368.5,734.6 372.9,735.8 377.4,737.1 381.8,738.3 386.2,739.4 390.6,740.6 394.9,741.7 399.1,742.8 403.2,743.9 407.3,744.9 410.7,745.7 414,746.6 417.2,747.3 420.4,748.1 423.5,748.8 426.7,749.5 429.8,750.2 432.3,750.8"/>
<path d="M412.2,209.3 413.7,210.8 415.1,212.2 416.5,213.5 417.9,214.9 419.2,216.2 420.6,217.6 422.1,219 423.5,220.4 425,222 426.6,223.6 428.3,225.3 430,227.2 433.2,230.7 436.7,234.6 440.4,238.7 444.3,243.1 448.3,247.8 452.5,252.6 456.7,257.6 460.9,262.6 465.1,267.6 469.2,272.7 473.2,277.7 477,282.6 480.8,287.6 484.7,292.7 488.5,297.8 492.4,303.1 496.2,308.3 499.9,313.6 503.6,318.9 507.2,324.1 510.7,329.3 514,334.4 517.2,339.5 520.2,344.4 522.6,348.4 524.8,352.3 526.9,356.1 529,359.9 531,363.7 532.9,367.5 534.8,371.2 536.6,374.9 538.4,378.7 540.1,382.4 541.9,386.2 543.6,390 545.3,393.8 546.9,397.6 548.6,401.5 550.2,405.4 551.7,409.3 553.3,413.2 554.8,417.1 556.2,420.9 557.6,424.6 559,428.1 560.3,431.6 561.5,434.9 562.4,437.2 563.2,439.4 564,441.6 564.8,443.7 565.5,445.7 566.2,447.7 566.9,449.6 567.6,451.6 568.3,453.6 569,455.7 569.7,457.8 570.4,460 571.2,462.6 572.1,465.2 573,467.9 573.9,470.7 574.8,473.5 575.6,476.3 576.5,479.1 577.3,481.9 578.1,484.7 578.9,487.5 579.6,490.2 580.2,492.9 580.7,495.3 581.2,497.8 581.6,500.2 582,502.6 582.3,505 582.7,507.4 583,509.8 583.3,512.1 583.6,514.5 583.9,516.8 584.2,519.1 584.6,521.4 584.9,523.5 585.3,525.5 585.6,527.5 585.9,529.5 586.3,531.5 586.4,532.2"/>
<path d="M353.3,281.4 566.7,281.4"/>
<path d="M336.5,305.3 339.9,307.8 343.4,310.3 346.7,312.9 350.1,315.5 353.4,318 356.8,320.6 360.2,323.1 363.7,325.6 367.2,328.1 370.8,330.5 374.4,332.8 378.2,335.1 382.4,337.5 386.8,339.7 391.3,341.9 395.8,344.1 400.4,346.2 405.1,348.2 409.8,350.2 414.6,352.2 419.3,354.2 421.1,355"/>
<path d="M325.1,305.3 327.5,312.2 329.9,319.1 332.4,326.1 334.8,333.2 337.3,340.2 339.8,347.2 342.2,354.1 344.6,361 346.9,367.8 349.2,374.5 351.4,381.1 353.5,387.6 355.2,393 356.9,398.4 358.5,403.6 360.1,408.8 361.6,413.9 363.1,419 364.6,424 366,429 367.5,434.1 368.2,436.5"/>
<path d="M337,305.3 340.4,308.9 343.9,312.4 347.4,316 350.9,319.5 354.4,323.1 357.8,326.6 361.3,330.2 364.7,333.7 368.1,337.3 371.5,340.9 374.8,344.4 378,348 381,351.4 383.8,354.7 386.6,358 389.3,361.3 392,364.6 394.6,367.9 397.3,371.3 400,374.7 402.9,378.1 405.8,381.7 408.8,385.3 412,389 416.4,394 420.9,399.2 425.7,404.6 430.7,410.1 435.7,415.7 440.9,421.4 446.1,427.1 451.3,432.8 456.5,438.4 461.7,444 466.8,449.4 471.8,454.6 476.4,459.3 481,464 485.6,468.7 490.3,473.3 494.9,477.8 499.5,482.4 504.1,486.8 508.6,491.2 513.1,495.5 517.5,499.8 521.8,503.9 526,508 529.5,511.4 532.8,514.6 536.2,517.8 539.4,521 542.6,524 545.8,527.1 549,530.1 552.2,533.1 555.3,536.1"/>
<path d="M310.9,305.3 309.8,311.1 308.7,316.8 307.6,322.5 306.4,328.2 305.3,333.8 304.2,339.5 303.1,345.2 302,351 300.9,356.9 299.9,362.9 298.9,369 297.9,375.3 296.8,383.1 295.6,391.2 294.5,399.5 293.4,408.1 292.3,416.8 291.3,425.5 290.4,434.2 289.5,442.9 288.7,451.4 288,459.7 287.5,467.7 287.1,475.3 286.9,481.2 286.7,487 286.7,492.6 286.7,498.2 286.8,503.7 286.9,509 287,514.3 287.3,519.6 287.5,524.7 287.8,529.9 288.1,535 288.5,540 288.8,544.4 289.1,548.7 289.4,553 289.8,557.2 290.1,561.3 290.5,565.5 291,569.6 291.5,573.6 292.1,577.7 292.8,581.8 293.7,585.9 294.6,590 295.7,594.3 297,598.6 298.4,602.9 300,607.2 301.6,611.4 303.2,615.7 305,620 306.7,624.2 308.5,628.5 308.6,628.9"/>
<path d="M304.1,305.3 301.9,310 299.6,314.7 297.4,319.4 295.1,324.2 292.8,329 290.5,333.7 288.2,338.4 286,343.1 283.9,347.7 281.8,352.3 279.8,356.7 277.9,361 276.4,364.4 275,367.7 273.6,370.9 272.3,374.1 271,377.2 269.7,380.2 268.5,383.3 267.3,386.4 266.1,389.6 264.9,392.9 263.6,396.4 262.4,400 260.8,404.8 259.2,409.8 257.5,414.9 255.9,420.2 254.2,425.6 252.6,431.1 251,436.7 249.5,442.3 248,448 246.6,453.7 245.3,459.3 244,465 242.7,471 241.5,477.1 240.3,483.2 239.2,489.4 238.1,495.7 237.1,502 236.1,508.3 235.3,514.5 234.6,520.7 233.9,526.9 233.5,532.9 233.1,538.9 232.9,544.3 232.8,549.7 232.8,555.1 232.8,560.4 233,565.8 233.2,571 233.5,576.3 233.9,581.4 234.4,586.4 234.9,591.3 235.5,596.1 236.2,600.7 236.8,604.3 237.5,607.9 238.3,611.4 239.1,614.8 240,618.2 240.9,621.5 241.9,624.7 242.8,627.9 243.8,631 244.7,634.1 245.7,637.1 246.6,640 247.3,642.4 248,644.7 248.7,646.9 249.4,649.1 250.1,651.2 250.8,653.4 251.6,655.5 252.3,657.5 253.1,659.6 253.9,661.7 254.8,663.8 255.7,665.9 256.7,668.1 257.7,670.4 258.7,672.7 259.8,675 260.9,677.2 262,679.5 263.2,681.7 264.4,683.9 265.7,686 267,688 268.4,690 269.9,691.8 271.4,693.4 272.9,695 274.5,696.4 276.1,697.8 277.8,699.2 279.6,700.5 281.4,701.7 283.2,702.9 285,704.1 286.9,705.2 288.8,706.3 290.7,707.4 292.7,708.5 294.7,709.5 296.7,710.4 298.8,711.3 300.9,712.1 303,713 305.2,713.7 307.4,714.5 309.6,715.3 311.9,716.1 314.2,716.9 316.6,717.7 319.5,718.7 322.5,719.7 325.6,720.7 328.7,721.6 331.9,722.6 335.1,723.6 338.4,724.5 341.7,725.5 345.1,726.5 348.5,727.4 351.9,728.4 355.4,729.4 359.5,730.6 363.7,731.7 368,732.9 372.4,734.1 376.9,735.3 381.4,736.6 385.8,737.7 390.3,738.9 394.7,740.1 399,741.2 403.2,742.3 407.3,743.4 410.7,744.3 414,745.1 417.2,746 420.4,746.8 423.5,747.6 426.7,748.3 429.8,749.1 432.4,749.8"/>
<path d="M643,209.3 629.8,244.8"/>
<path d="M621.4,209.3 617.8,212.5 614.1,215.7 610.5,218.9 606.8,222 603.2,225.2 599.5,228.4 595.9,231.6 592.3,234.8 588.7,238 585.1,241.3 581.5,244.6 578,248 574.5,251.5 570.9,254.9 567.5,258.4 564,261.9 560.6,265.5 557.2,269 553.7,272.7 550.3,276.3 546.9,280.1 543.5,283.9 540,287.8 536.5,291.8 532.5,296.5 528.4,301.3 524.4,306.3 520.3,311.4 516.2,316.6 512.1,321.8 508,327.1 503.9,332.3 499.8,337.6 495.8,342.8"/>
<path d="M662.2,209.3 663.3,214.1 664.5,218.9 665.8,223.7 667.1,228.5 668.4,233.3 669.7,238.1 670.9,242.9 672,247.7 672.9,252.6 673.7,257.4 674.2,262.3 674.5,267.2 674.6,272.3 674.6,277.5 674.5,282.7 674.3,288 673.9,293.3 673.4,298.6 672.6,303.9 671.7,309.1 670.5,314.3 669,319.3 667.3,324.2 665.3,328.9 662.8,333.8 659.8,338.6 656.4,343.4 652.6,348.1 648.7,352.7 644.5,357.2 640.2,361.6 635.8,365.9 631.4,370 627.1,374 622.9,377.8 618.9,381.4 615.7,384.3 612.5,387 609.4,389.5 606.3,392 603.2,394.4 600,396.7 596.9,398.9 593.6,401.1 590.4,403.2 587,405.4 583.6,407.5 580,409.7 575.9,412.2 571.6,414.6 567.2,417 562.8,419.4 558.2,421.7 553.6,424.1 548.9,426.3 544.2,428.5 539.6,430.7 534.9,432.8 530.2,434.8 525.6,436.7 521.1,438.5 516.6,440.2 512.1,441.9 507.6,443.5 503,445 498.5,446.5 493.9,447.9 489.4,449.3 484.9,450.7 480.5,452 476.1,453.3 471.8,454.6 468,455.7 464.3,456.7 460.6,457.7 456.9,458.7 453.3,459.6 449.6,460.5 446,461.4 442.5,462.3 440.9,462.7"/>
<path d="M668.3,209.3 670.4,214.1 672.6,218.8 674.8,223.5 677.1,228.1 679.4,232.8 681.6,237.4 683.8,242.1 685.9,246.9 687.9,251.8 689.8,256.8 691.5,261.9 693,267.2 694.5,273.5 695.9,280.1 697.2,287 698.3,293.9 699.2,301.1 700,308.2 700.7,315.4 701.2,322.6 701.6,329.7 701.9,336.7 702,343.5 702,350 701.9,355.5 701.7,361 701.4,366.3 700.9,371.6 700.4,376.8 699.8,381.9 699.1,387.1 698.2,392.2 697.3,397.3 696.3,402.4 695.2,407.5 694,412.6 692.7,417.9 691.2,423.4 689.6,428.8 687.9,434.3 686.1,439.7 684.2,445.1 682.2,450.5 680.2,455.7 678.1,460.9 675.9,466 673.7,470.9 671.4,475.6 669.3,479.6 667.2,483.6 665,487.5 662.7,491.3 660.4,495 658,498.7 655.6,502.2 653.2,505.7 650.7,509.1 648.3,512.4 645.9,515.7 643.6,518.8 641.7,521.3 639.8,523.7 637.8,526 635.9,528.3 634,530.4 632.1,532.6 630.1,534.7 629.5,535.4"/>
<path d="M706.7,195.1 708.8,195.6 710.9,196 712.9,196.4 715,196.9 717.1,197.3 719.1,197.7 721.2,198.2 723.3,198.6 725.4,199.1 727.5,199.6 729.7,200.1 731.9,200.7 734.4,201.4 737,202.1 739.6,202.8 742.3,203.6 744.9,204.3 747.6,205.2 750.3,206 753,206.8 755.7,207.7 758.4,208.5 761,209.4 763.7,210.3 766.4,211.2 769,212.1 771.7,213.1 774.4,214 777,215 779.7,216 782.3,217 785,218 787.7,219.1 790.3,220.1 793,221.1 795.6,222.2 798.3,223.3 801,224.4 803.7,225.5 806.5,226.7 809.2,227.9 811.9,229 814.6,230.2 817.3,231.4 819.9,232.5 822.5,233.6 825,234.7 827.5,235.8 829.5,236.7 831.5,237.5 833.4,238.3 835.4,239.1 837.2,239.9 839.1,240.7 840.9,241.4 842.8,242.2 844.6,243 846.4,243.8 848.2,244.6 850,245.5 851.7,246.3 853.5,247.2 855.2,248 856.9,248.9 858.6,249.7 860.2,250.6 861.9,251.5 863.6,252.4 865.2,253.3 866.9,254.2 868.5,255.2 870.2,256.2 871.9,257.3 873.6,258.4 875.4,259.5 877.1,260.6 878.8,261.7 880.5,262.9 882.1,264.1 883.8,265.3 885.5,266.6 887.2,267.8 888.8,269.1 890.5,270.4 892.2,271.8 894,273.2 895.7,274.7 897.4,276.1 899.2,277.6 900.9,279.1 902.6,280.7 904.3,282.2 905.9,283.8 907.6,285.4 909.1,287 910.7,288.6 912.2,290.2 913.6,291.8 915.1,293.4 916.5,295.1 917.9,296.7 919.3,298.4 920.6,300.1 921.9,301.8 923.2,303.5 924.5,305.3 925.7,307 926.9,308.8 928.1,310.6 929.2,312.4 930.3,314.2 931.4,316 932.5,317.9 933.5,319.8 934.5,321.6 935.5,323.5 936.4,325.4 937.3,327.3 938.2,329.2 939,331.1 939.8,332.9 940.5,334.8 941.2,336.6 941.9,338.5 942.5,340.3 943.1,342.2 943.7,344.1 944.3,345.9 944.8,347.8 945.3,349.6 945.7,351.5 946.1,353.3 946.4,355 946.7,356.7 947,358.4 947.2,360.1 947.4,361.9 947.6,363.6 947.8,365.3 947.9,366.9 948,368.6 948.1,370.3 948.2,371.9 948.3,373.5 948.4,374.9 948.4,376.3 948.4,377.7 948.4,379.1 948.4,380.4 948.3,381.8 948.3,383.1 948.2,384.4 948.2,385.8 948.1,387.2 948.1,388.6 948.1,390 948.1,391.6 948.1,393.1 948.1,394.6 948.1,396.1 948.1,397.7 948.1,399.2 948.1,400.8 948.1,402.5 948.1,404.2 948.1,406 948.1,408 948.1,410 948.1,413.9 948.1,418.1 948.1,422.6 948.1,427.4 948.1,432.4 948.1,437.6 948.1,442.9 948.1,448.3 948.1,453.8 948.1,459.2 948.1,464.7 948.1,470 948.1,476.1 948.1,482.7 948.1,489.5 948.1,496.5 948.1,503.6 948.1,510.6 948.1,517.4 948.1,523.9 948.1,530.1 948.1,535.7 948.1,540.7 948.1,545 948.1,546.6 948.1,548.1 948.1,549.5 948.1,550.8 948.1,552 948.1,553.1 948.1,554.2 948.1,555.3 948.1,556.4 948.1,557.6 948.1,558.7 948.1,560 948.1,561.4 948.1,562.9 948.1,564.4 948,565.9 948,567.4 948,568.9 948,570.4 947.9,571.9 947.9,573.5 947.8,575 947.6,576.5 947.5,578 947.3,579.5 947.2,581 947,582.5 946.9,584 946.7,585.5 946.5,587 946.2,588.5 946,590 945.6,591.6 945.2,593.1 944.7,594.8 944.1,596.4 943.2,598.8 942.1,601.3 940.9,603.9 939.5,606.6 938.1,609.3 936.6,612.1 934.9,614.8 933.2,617.5 931.4,620.1 929.5,622.6 927.6,625 925.6,627.3 923.5,629.5 921.3,631.5 919,633.5 916.6,635.4 914.1,637.2 911.6,639 908.9,640.7 906.2,642.3 903.5,644 900.6,645.6 897.7,647.3 894.7,648.9 890.9,650.9 886.8,652.8 882.5,654.7 878.1,656.5 873.6,658.3 869,660.1 864.4,661.8 859.7,663.5 855.2,665.3 850.7,667 846.4,668.7 842.2,670.5 838.7,672.1 835.2,673.6 831.8,675.2 828.5,676.7 825.2,678.3 822,679.8 818.7,681.4 815.5,682.9 812.2,684.4 808.9,686 805.5,687.5 802.1,689 798.4,690.6 794.7,692.2 791,693.8 787.2,695.4 783.4,697 779.6,698.6 775.8,700.2 771.9,701.8 768,703.4 764,704.9 759.9,706.5 755.8,708 750.9,709.7 745.9,711.5 740.7,713.3 735.4,715.1 730.1,716.8 724.7,718.5 719.3,720.2 714,721.9 708.7,723.5 703.6,725.1 698.7,726.6 694,728 690.4,729.1 686.9,730.1 683.5,731.2 680.1,732.2 676.8,733.2 673.5,734.1 670.3,735 667.1,735.9 663.9,736.7 660.8,737.5 657.6,738.3 654.4,739 651.5,739.6 648.6,740.2 645.7,740.7 642.8,741.1 639.9,741.6 637.1,742 634.3,742.4 631.4,742.8 628.6,743.1 625.7,743.5 622.9,743.9 620,744.3 617.1,744.7 614.1,745.1 611.1,745.5 608.1,745.8 605.1,746.2 602.2,746.5 599.2,746.9 596.2,747.2 593.3,747.6 590.5,748 587.7,748.3 585,748.7 582.8,749 580.6,749.4 578.5,749.7 576.4,750 574.3,750.4 572.2,750.7 570.2,751.1 568.2,751.4 566.2,751.7 564.1,752.1 562.1,752.4 560,752.7 557.9,753 555.8,753.3 553.7,753.6 551.5,753.9 549.4,754.2 547.2,754.5 545.1,754.8 543,755.1 541,755.3 538.9,755.6 536.9,755.8 535,756 533.4,756.2 531.9,756.3 530.6,756.4"/>
<path d="M580,299.6 509.6,346"/>
<path d="M505.3,358.3 576,312.5"/>
<path d="M600.4,305.3 598.1,308.6 595.8,311.9 593.5,315.3 591.3,318.6 589,322 586.7,325.3 584.4,328.6 582.1,332 579.7,335.2 577.4,338.5 574.9,341.7 572.4,344.8 569.8,347.9 567.2,350.9 564.6,354 561.9,357 559.2,360 556.4,362.9 553.6,365.8 550.8,368.7 548,371.5 545.2,374.3 542.4,377.1 539.6,379.8 536.9,382.4 534.2,384.9 531.5,387.4 528.8,389.9 526.1,392.3 523.4,394.7 520.6,397.1 517.8,399.4 515.1,401.7 512.3,403.9 509.5,406.1 506.7,408.3 504,410.3 501.3,412.3 498.6,414.2 495.9,416.1 493.2,418 490.4,419.8 487.7,421.6 484.9,423.4 482.1,425.2 479.4,426.9 476.6,428.5 473.8,430.2 471.1,431.8 468.2,433.4 465.3,434.9 462.4,436.5 459.5,438 456.5,439.5 453.7,440.9 450.9,442.3 448.2,443.6 445.6,444.9 443.2,446.1 441,447.2 439.9,447.7"/>
<path d="M624.5,305.3 625.7,310.1 627,314.9 628.4,319.7 629.7,324.5 631,329.3 632.4,334.1 633.7,338.9 634.9,343.7 636.1,348.5 637.2,353.3 638.1,358.1 639,362.9 639.7,367.6 640.4,372.4 641,377.1 641.5,381.8 642,386.5 642.4,391.3 642.7,396 643,400.8 643.2,405.5 643.4,410.3 643.5,415.2 643.6,420 643.7,425.1 643.8,430.3 643.8,435.6 643.8,441 643.8,446.3 643.7,451.7 643.5,457 643.2,462.2 642.7,467.3 642.2,472.3 641.5,477.2 640.6,481.8 639.7,485.5 638.7,489.2 637.6,492.8 636.4,496.4 635.1,499.8 633.7,503.2 632.3,506.6 630.9,509.8 629.4,513 627.9,516 626.5,519 625.1,521.9 624,524.1 622.9,526.2 621.7,528.3 620.6,530.3 619.4,532.2 618.3,534"/>
<path d="M634.4,305.3 636.7,310.1 639.2,314.8 641.6,319.5 644,324.2 646.5,328.9 648.9,333.6 651.3,338.3 653.7,343.1 656,347.9 658.2,352.8 660.2,357.8 662.2,362.9 664.2,368.5 666.1,374.4 667.9,380.4 669.6,386.6 671.2,392.8 672.8,399 674.3,405.2 675.7,411.3 677,417.3 678.3,423.1 679.5,428.7 680.7,434 681.6,437.8 682.4,441.6 683.3,445.2 684.1,448.7 684.9,452.2 685.6,455.6 686.3,459 686.9,462.3 687.4,465.6 687.8,468.9 688.2,472.2 688.4,475.6 688.5,478.8 688.6,481.9 688.5,485 688.4,488.2 688.2,491.3 688,494.4 687.7,497.4 687.3,500.5 686.9,503.5 686.4,506.6 685.9,509.6 685.3,512.6 684.7,515.6 684,518.5 683.4,521.4 682.6,524.4 681.8,527.3 680.9,530.2 680,533 679.1,535.9 678,538.7 676.9,541.5 675.7,544.3 674.5,547 673.2,549.7 671.7,552.4 670.2,555.1 668.7,557.8 667,560.4 665.4,563 663.6,565.6 661.8,568.2 660,570.7 658.2,573.1 656.3,575.5 654.4,577.9 652.6,580.2 650.7,582.4 648.9,584.6 647.1,586.8 645.2,588.9 643.3,591 641.3,593.1 639.2,595.1 637,597 634.7,598.9 632.3,600.8 629.7,602.6 626.2,604.8 622.4,606.9 618.3,609 614.1,610.9 609.7,612.8 605.1,614.6 600.5,616.3 595.8,618 591.1,619.6 586.4,621.2 581.8,622.7 577.2,624.2 572.6,625.7 568,627.1 563.3,628.4 558.7,629.6 554,630.8 549.3,632 544.6,633.1 539.8,634.1 534.9,635.2 530,636.3 525,637.3 520,638.4 514.2,639.6 508.4,640.8 502.4,641.9 496.4,643.1 490.3,644.2 484.2,645.3 478,646.3 471.8,647.4 465.5,648.4 459.3,649.4 453,650.3 446.8,651.3 440.4,652.2 433.9,653.2 427.4,654 420.9,654.9 414.3,655.7 407.7,656.5 401.2,657.3 394.6,658 388,658.8 381.5,659.6"/>
<path d="M652,288.3 655,289 657.9,289.6 660.8,290.2 663.7,290.8 666.7,291.5 669.6,292.1 672.5,292.7 675.5,293.4 678.5,294.1 681.5,294.8 684.5,295.6 687.6,296.4 691.1,297.4 694.7,298.4 698.3,299.5 702,300.6 705.6,301.7 709.3,302.9 713.1,304.1 716.8,305.4 720.5,306.6 724.2,307.9 727.9,309.3 731.5,310.6 735.2,312 738.9,313.4 742.5,314.9 746.2,316.3 749.8,317.9 753.5,319.4 757.1,321 760.8,322.6 764.4,324.2 768,325.9 771.7,327.6 775.3,329.3 779.1,331.1 782.9,333 786.7,334.9 790.6,336.8 794.4,338.7 798.2,340.7 802,342.7 805.8,344.8 809.5,346.9 813.1,349 816.6,351.2 820,353.4 823,355.5 826,357.6 828.9,359.7 831.8,361.9 834.6,364.2 837.4,366.4 840.1,368.7 842.8,371 845.4,373.2 848,375.5 850.5,377.8 853,380 855.2,382 857.4,383.9 859.6,385.8 861.7,387.7 863.8,389.6 865.9,391.6 867.9,393.5 869.9,395.5 871.8,397.5 873.6,399.6 875.3,401.7 877,403.9 878.6,406.2 880.1,408.5 881.6,411 883,413.5 884.4,416 885.6,418.6 886.9,421.2 888,423.7 889.1,426.3 890.1,428.9 891,431.4 891.9,433.8 892.6,435.9 893.2,437.9 893.7,440 894.2,442 894.6,444.1 895,446.1 895.3,448.1 895.6,450.1 895.9,452.1 896.1,454.1 896.4,456.1 896.6,458 896.8,459.7 896.9,461.5 897.1,463.2 897.2,464.9 897.2,466.6 897.3,468.3 897.4,470 897.4,471.7 897.4,473.3 897.4,474.9 897.5,476.5 897.5,478 897.5,479.2 897.5,480.4 897.5,481.6 897.6,482.7 897.5,483.8 897.5,484.9 897.5,486 897.5,487.1 897.5,488.2 897.5,489.4 897.5,490.7 897.5,492 897.5,494 897.5,496.1 897.5,498.3 897.5,500.6 897.5,502.9 897.5,505.3 897.5,507.8 897.5,510.2 897.5,512.7 897.5,515.2 897.5,517.6 897.5,520 897.5,522.5 897.5,525.1 897.5,527.7 897.5,530.4 897.5,533.1 897.5,535.7 897.5,538.3 897.5,540.9 897.5,543.3 897.5,545.7 897.5,547.9 897.5,550 897.5,551.3 897.5,552.5 897.5,553.6 897.6,554.7 897.6,555.8 897.6,556.8 897.6,557.9 897.6,558.9 897.6,559.9 897.6,560.9 897.6,561.9 897.5,563 897.4,564.1 897.4,565.2 897.3,566.3 897.2,567.4 897.1,568.5 897,569.6 896.9,570.7 896.8,571.8 896.6,572.9 896.5,573.9 896.2,575 896,576 895.8,577 895.5,577.9 895.3,578.8 895,579.6 894.7,580.5 894.4,581.4 894,582.2 893.7,583.1 893.2,584.1 892.7,585 892.2,586 891.6,587.1 890.3,589.2 888.9,591.5 887.3,593.9 885.5,596.5 883.5,599.1 881.5,601.9 879.3,604.6 877,607.4 874.6,610.2 872.1,612.9 869.5,615.5 866.9,618 863.5,621 860,624 856.2,627 852.3,629.9 848.2,632.9 844,635.8 839.7,638.6 835.4,641.4 830.9,644.1 826.5,646.8 822,649.4 817.5,652 812.6,654.6 807.6,657.2 802.4,659.8 797.2,662.2 791.8,664.7 786.4,667 781.1,669.3 775.8,671.5 770.5,673.7 765.4,675.8 760.5,677.8 755.8,679.8 752.3,681.3 748.9,682.7 745.7,684 742.6,685.2 739.5,686.4 736.5,687.6 733.4,688.8 730.3,690 727,691.2 723.6,692.5 720,693.8 716.1,695.2 709.7,697.5 702.7,700 695.3,702.6 687.5,705.3 679.5,708.1 671.2,710.9 662.9,713.7 654.6,716.4 646.4,719 638.4,721.6 630.8,723.9 623.5,726.1 617.8,727.7 612.1,729.3 606.5,730.7 601,732.1 595.6,733.4 590.3,734.7 585,735.9 579.8,737.2 574.7,738.4 569.7,739.6 564.8,740.8 560,742 556.1,743 552.4,744 548.7,745 545.1,746 541.6,746.9 538.1,747.9 534.7,748.8 531.2,749.8 530.2,750.1"/>
<path d="M447,401.3 411.3,439.6"/>
<path d="M433.3,383.3 431.6,383.8 429.8,384.3 428.1,384.7 426.4,385.2 424.7,385.7 423,386.1 421.2,386.6 419.5,387.1 417.8,387.6 416,388.1 414.3,388.7 412.5,389.3 410.6,390 408.6,390.7 406.6,391.4 404.6,392.2 402.6,392.9 400.6,393.7 398.6,394.5 396.6,395.4 394.6,396.2 392.6,397.1 390.6,398 388.6,398.9 386.6,399.9 384.5,400.9 382.5,401.9 380.4,402.9 378.3,404 376.3,405.1 374.2,406.2 372.2,407.3 370.3,408.4 368.4,409.5 366.5,410.6 364.7,411.7 363.2,412.6 361.8,413.5 360.4,414.4 359.1,415.3 357.7,416.2 356.4,417.1 355.1,418 353.8,418.9 352.6,419.9 351.3,420.8 350,421.8 348.7,422.8 347.3,423.9 346,424.9 344.6,426.1 343.2,427.2 341.8,428.3 340.5,429.5 339.1,430.6 337.8,431.8 336.5,433 335.2,434.1 334,435.3 332.8,436.4 331.8,437.4 330.8,438.4 329.8,439.3 328.8,440.3 327.9,441.2 327,442.2 326,443.1 325.1,444.1 324.3,445.1 323.4,446.2 322.5,447.2 321.7,448.3 320.8,449.5 319.9,450.7 319.1,452 318.2,453.3 317.4,454.6 316.6,455.9 315.8,457.2 315,458.6 314.3,460 313.5,461.4 312.8,462.8 312.1,464.2 311.4,465.7 310.7,467.3 310,468.8 309.4,470.4 308.7,472 308.1,473.7 307.5,475.3 307,476.9 306.4,478.6 305.9,480.2 305.4,481.8 304.9,483.4 304.5,484.9 304.1,486.3 303.7,487.7 303.3,489.1 303,490.5 302.6,491.9 302.3,493.3 302,494.7 301.7,496.2 301.4,497.7 301.2,499.3 300.9,500.9 300.6,503.1 300.2,505.3 299.9,507.6 299.7,510 299.4,512.5 299.1,514.9 298.9,517.5 298.7,520 298.5,522.5 298.4,525 298.3,527.5 298.2,530 298.2,532.5 298.1,535 298.2,537.5 298.2,540 298.3,542.5 298.4,545 298.5,547.5 298.7,550 298.9,552.5 299.1,555 299.3,557.5 299.5,560 299.7,562.5 300,564.9 300.2,567.3 300.5,569.7 300.8,572.1 301.1,574.5 301.4,577 301.8,579.4 302.2,582 302.7,584.6 303.2,587.2 303.7,590 304.5,593.8 305.5,597.8 306.5,601.9 307.6,606.1 308.8,610.4 310.1,614.8 311.3,619.3 312.6,623.7 313.9,628.2 314,628.5"/>
<path d="M494.5,401.3 497.1,404.3 499.8,407.3 502.6,410.3 505.3,413.3 508.1,416.3 510.9,419.4 513.5,422.4 516.2,425.3 518.7,428.3 521.2,431.1 523.5,434 525.6,436.7 527.1,438.8 528.5,440.8 529.9,442.8 531.1,444.8 532.4,446.7 533.5,448.7 534.7,450.6 535.8,452.5 537,454.4 538.2,456.2 539.5,458.1 540.8,460 542.2,461.9 543.7,463.7 545.2,465.5 546.7,467.2 548.3,469 549.8,470.7 551.4,472.5 552.9,474.3 554.4,476.1 555.8,478 557.1,479.9 558.3,481.9 559.5,484.1 560.6,486.4 561.6,488.7 562.6,491.1 563.5,493.5 564.4,496 565.3,498.5 566.1,501 566.9,503.4 567.7,505.8 568.5,508.1 569.3,510.4 570,512.3 570.7,514.3 571.3,516.2 572,518.1 572.6,520 573.3,521.9 573.9,523.7 574.5,525.5 575.1,527.3 575.7,529 576.3,530.7 576.9,532.3 577.2,533"/>
<path d="M470.6,401.3 470.8,406.3 470.9,411.4 471.1,416.4 471.3,421.4 471.4,426.5 471.6,431.5 471.8,436.6 472,441.6 472.1,446.6 472.3,451.7 472.5,456.7 472.7,461.8 472.9,466.9 473.1,472.1 473.4,477.4 473.6,482.6 473.9,487.9 474.1,493.2 474.4,498.4 474.6,503.6 474.9,508.7 475.1,513.7 475.3,518.7 475.5,523.5 475.7,527.6 475.8,531.5 476,535.3 476.1,539.1 476.2,542.8 476.4,546.5 476.5,550.2 476.6,553.9 476.7,557.8 476.8,561.7 477,565.8 477.1,570 477.3,575.5 477.4,581.2 477.6,587.1 477.7,593.1 477.9,599.1 478.1,605.3 478.2,611.6 478.4,618 478.5,624.4 478.7,630.9 478.8,637.4 479,643.9 479.2,651.3 479.3,658.8 479.5,666.5 479.7,674.2 479.8,682 480,689.9 480.2,697.8 480.3,705.8 480.5,713.7 480.7,721.6 480.7,724"/>
<path d="M425.1,497.3 429.6,499.3 434.2,501.4 438.6,503.4 443.1,505.4 447.6,507.4 452,509.4 456.5,511.4 461.1,513.4 465.7,515.5 470.4,517.6 475.1,519.7 480,521.9 485.8,524.5 491.7,527.2 497.7,529.9 503.9,532.6 510.1,535.4 516.4,538.2 522.7,541.1 529,543.9 535.3,546.8 541.6,549.6 541.9,549.7"/>
<path d="M553.3,546.6 550.4,545.4 547.5,544.2 544.6,542.9 541.8,541.7 538.9,540.5 536,539.3 533.1,538.1 530.2,536.9 527.3,535.6 524.4,534.4 521.5,533.1 518.5,531.8 515.4,530.4 512.3,529 509.1,527.6 506,526.1 502.9,524.7 499.7,523.2 496.6,521.7 493.3,520.3 490.1,518.8 486.8,517.2 483.4,515.7 480,514.2 475.9,512.4 471.8,510.6 467.6,508.8 463.3,506.9 458.9,505.1 454.5,503.2 450.1,501.3 445.6,499.4 441.2,497.5 440.3,497.1"/>
<path d="M366,497.3 363.6,505.1 361.2,513.1 358.7,521.1 356.2,529.2 353.7,537.3 351.2,545.3 348.8,553.3 346.4,561.1 344.1,568.7 341.9,576.1 339.9,583.2 338,590 336.7,594.8 335.5,599.4 334.4,603.8 333.3,608.2 332.3,612.4 331.4,616.6 330.4,620.7 329.5,624.7 328.6,628.3"/>
<path d="M338.6,641.3 340,637.1 341.5,632.9 342.9,628.8 344.3,624.8 345.7,620.7 347.1,616.6 348.6,612.5 350,608.3 351.4,603.9 352.9,599.5 354.3,594.8 355.8,590 357.8,583.3 359.8,576.2 361.8,568.8 363.9,561.2 365.9,553.4 368,545.4 370.1,537.3 372.1,529.2 374.2,521.1 376.3,513.1 377,510.2"/>
<path d="M384.5,497.3 386.3,503.4 388.1,509.4 389.8,515.5 391.6,521.5 393.4,527.6 395.1,533.6 396.9,539.7 398.7,545.7 400.5,551.8 402.3,557.8 404.1,563.9 406,570 407.9,576.3 409.9,582.6 411.9,589.1 414,595.5 416,602 418.1,608.5 420.1,614.9 422.1,621.2 424.1,627.3 426.1,633.3 428,639.1 429.9,644.7 431.3,648.9 432.7,652.9 434,656.8 435.3,660.7 436.5,664.4 437.8,668.1 439.1,671.7 440.4,675.3 441.7,678.9 443.1,682.6 444.5,686.3 446,690 447.6,693.9 449.3,697.9 451,701.8 452.8,705.8 454.6,709.7 456.4,713.6 458.3,717.6 460.2,721.5 461.9,725.2"/>
<path d="M478.9,737.3 477.6,733.4 476.4,729.5 475.2,725.7 474,722 472.8,718.2 471.6,714.4 470.4,710.5 469.1,706.6 467.8,702.6 466.5,698.5 465.1,694.3 463.7,690 461.8,684.2 459.7,678.1 457.6,671.8 455.4,665.3 453.1,658.7 450.8,652 448.4,645.3 446.1,638.6 443.8,631.9 441.5,625.3 439.3,618.9 437.1,612.6 435.2,607 433.2,601.4 431.4,595.9 429.5,590.4 427.6,584.9 425.7,579.5 423.9,574.1 422,568.8 420.2,563.5 418.3,558.3 416.4,553.2 414.5,548.1 412.8,543.6 411.1,539.2 409.3,534.9 407.6,530.7 405.8,526.5 404.1,522.3 402.3,518.1 400.6,514 398.8,509.8 398.7,509.6"/>
<path d="M553.3,582.7 550.6,583.6 548,584.4 545.5,585.2 543.1,586 540.6,586.8 538.1,587.6 535.6,588.4 532.9,589.3 530,590.3 526.9,591.3 523.6,592.4 520,593.7 511.2,596.8 501,600.5 489.8,604.6 477.5,609.1 464.5,613.9 451,619 437,624.2 422.9,629.5 408.8,634.7 394.8,639.9 381.3,645 380.8,645.2"/>
<path d="M580.9,593.3 579.3,597.1 577.8,601 576.3,604.8 574.8,608.6 573.3,612.4 571.8,616.3 570.3,620.1 568.7,624 567.1,627.8 565.4,631.7 563.7,635.6 561.8,639.6 559.6,644.1 557.2,648.8 554.8,653.5 552.3,658.2 549.7,663 547,667.7 544.3,672.5 541.6,677.2 538.9,681.8 536.2,686.4 533.5,690.9 530.9,695.2 528.6,699 526.2,702.6 523.9,706.2 521.5,709.8 519.1,713.2 516.7,716.7 514.4,720.1 512,723.5 510.1,726.3"/>
<path d="M364.9,689.3 433.9,731.5"/>
</g>
<g fill="#000" stroke="#000" stroke-width="1.33">
<polygon points="269.4,161.3 272.0,147.4 280.1,152.1"/>
<polygon points="368.5,161.3 356.6,153.6 364.0,147.9"/>
<polygon points="587.9,257.3 574.7,252.4 580.6,245.2"/>
<polygon points="628.2,549.7 636.4,538.2 641.8,545.8"/>
<polygon points="517.3,758.2 530.3,752.7 530.9,762.0"/>
<polygon points="282.7,658.3 268.7,660.2 270.6,651.0"/>
<polygon points="580.0,273.8 566.2,276.6 567.4,267.4"/>
<polygon points="282.7,656.6 268.6,657.7 271.0,648.7"/>
<polygon points="332.0,453.2 318.1,450.5 322.9,442.4"/>
<polygon points="335.6,257.3 339.6,243.7 347.1,249.2"/>
<polygon points="446.7,185.3 460.0,180.6 460.0,190.0"/>
<polygon points="597.3,185.3 584.0,190.0 584.0,180.6"/>
<polygon points="580.0,269.3 565.9,269.3 569.0,260.5"/>
<polygon points="446.7,206.0 460.8,206.3 457.6,215.0"/>
<polygon points="460.4,353.3 450.6,343.1 459.1,339.2"/>
<polygon points="390.8,209.3 397.5,221.7 388.3,223.2"/>
<polygon points="351.0,449.3 338.1,443.6 344.5,436.8"/>
<polygon points="308.6,641.3 298.3,631.6 306.6,627.3"/>
<polygon points="445.3,753.8 431.3,755.4 433.3,746.3"/>
<polygon points="588.6,545.3 581.8,532.9 591.0,531.4"/>
<polygon points="580.0,281.4 566.7,286.1 566.7,276.7"/>
<polygon points="433.3,360.4 419.2,359.3 423.0,350.8"/>
<polygon points="372.0,449.3 363.7,437.8 372.7,435.2"/>
<polygon points="564.9,545.3 552.0,539.5 558.5,532.7"/>
<polygon points="313.5,641.3 304.3,630.6 313.0,627.2"/>
<polygon points="445.3,753.0 431.2,754.3 433.5,745.2"/>
<polygon points="625.1,257.3 625.4,243.2 634.1,246.4"/>
<polygon points="487.5,353.3 492.1,339.9 499.4,345.7"/>
<polygon points="428.0,465.9 439.8,458.1 442.1,467.2"/>
<polygon points="620.5,545.3 626.0,532.3 632.9,538.6"/>
<polygon points="517.3,757.4 530.3,751.8 530.9,761.1"/>
<polygon points="498.5,353.3 507.1,342.1 512.2,349.9"/>
<polygon points="587.2,305.3 578.5,316.5 573.5,308.6"/>
<polygon points="428.0,453.7 437.8,443.6 442.0,451.9"/>
<polygon points="611.2,545.3 614.3,531.5 622.2,536.5"/>
<polygon points="368.3,661.2 381.0,654.9 382.1,664.2"/>
<polygon points="517.3,753.6 528.9,745.6 531.4,754.6"/>
<polygon points="402.2,449.3 407.9,436.4 414.7,442.7"/>
<polygon points="317.6,641.3 309.5,629.7 318.5,627.2"/>
<polygon points="582.4,545.3 572.9,534.9 581.5,531.2"/>
<polygon points="481.0,737.3 476.1,724.1 485.4,723.9"/>
<polygon points="554.1,555.2 540.0,554.0 543.9,545.5"/>
<polygon points="428.0,491.9 442.1,492.8 438.4,501.4"/>
<polygon points="325.6,641.3 324.1,627.3 333.2,629.4"/>
<polygon points="380.4,497.3 381.5,511.4 372.5,509.0"/>
<polygon points="467.5,737.3 457.7,727.2 466.1,723.2"/>
<polygon points="393.6,497.3 403.0,507.8 394.4,511.4"/>
<polygon points="368.3,649.8 379.2,640.8 382.4,649.5"/>
<polygon points="502.5,737.3 506.2,723.7 513.9,729.0"/>
<polygon points="445.3,738.4 431.5,735.4 436.4,727.5"/>
</g>
<g font-family="'Liberation Sans',sans-serif" font-size="13.33" text-anchor="middle" letter-spacing="-0.41" fill="#000">
<text x="286" y="153.2">3</text>
<text x="363.8" y="145.2">3</text>
<text x="578.3" y="242.3">4</text>
<text x="647.9" y="551">1</text>
<text x="535.7" y="769.1">4</text>
<text x="266.8" y="650.2">2</text>
<text x="563" y="263.9">12</text>
<text x="266" y="649.4">2</text>
<text x="319.7" y="440.8">1</text>
<text x="353.1" y="251.2">3</text>
<text x="579.5" y="180.1">3</text>
<text x="465.7" y="196.9">76</text>
<text x="567.5" y="258.5">116</text>
<text x="461.1" y="222.6">6</text>
<text x="462.4" y="337">15</text>
<text x="385.2" y="232.4">12</text>
<text x="342.9" y="434.4">34</text>
<text x="308.9" y="624.5">21</text>
<text x="429.1" y="744.3">2</text>
<text x="583.5" y="529.3">406</text>
<text x="559.2" y="276.4">8</text>
<text x="419.8" y="348.8">2</text>
<text x="374.7" y="433.1">5</text>
<text x="558" y="530.3">5</text>
<text x="429.6" y="743.1">1</text>
<text x="639.2" y="246.3">64</text>
<text x="505.5" y="346.3">59</text>
<text x="447.8" y="472.5">7</text>
<text x="630.8" y="537.9">46</text>
<text x="541.2" y="759.9">28</text>
<text x="518.8" y="352.8">87</text>
<text x="567.2" y="312.4">599</text>
<text x="448.7" y="457.2">97</text>
<text x="624.2" y="537.1">11</text>
<text x="387.6" y="671.5">76</text>
<text x="541.9" y="759.8">20</text>
<text x="422.2" y="444.5">562</text>
<text x="322.8" y="624.5">21</text>
<text x="594.5" y="529.3">5</text>
<text x="488.6" y="721.8">265</text>
<text x="540.4" y="543.3">71</text>
<text x="441.8" y="509.8">9</text>
<text x="337.5" y="629.4">41</text>
<text x="368.2" y="517.1">6</text>
<text x="467.9" y="720.3">45</text>
<text x="393.2" y="521.1">2</text>
<text x="388.5" y="655.4">11</text>
<text x="518.8" y="731.1">5</text>
<text x="434.5" y="726.4">43</text>
<text x="643.2" y="541.6">1</text>
</g>
</svg>
</body></html>
